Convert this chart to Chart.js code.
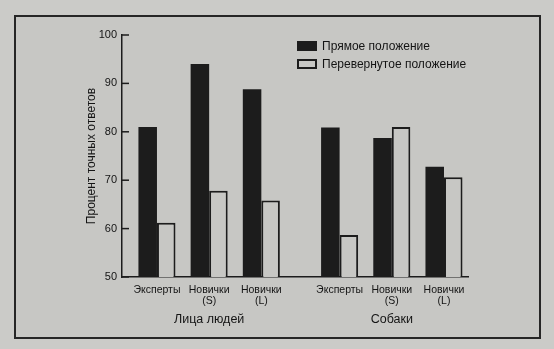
<!DOCTYPE html>
<html>
<head>
<meta charset="utf-8">
<script src="https://cdn.jsdelivr.net/npm/chart.js@4.4.1/dist/chart.umd.min.js"></script>
<style>
    body { margin: 0; background: #cbcbc8; }
    #wrap { position: relative; width: 554px; height: 349px; overflow: hidden; }
    #frame { position: absolute; left: 14px; top: 15px; width: 527px; height: 324px;
             border: 2px solid #262626; box-sizing: border-box; background: #c7c7c4; }
    #myChart { position: absolute; left: 0; top: 0; }
    #legend { position: absolute; left: 297px; top: 37px;
              font: 12px 'Liberation Sans', Arial, sans-serif; color: #141414; }
    .row { display: flex; align-items: center; height: 18px; white-space: nowrap; }
    .box { width: 20px; height: 10px; box-sizing: border-box; margin-right: 5px; }
</style>
</head>
<body>
<div id="wrap">
    <div id="frame"></div>
    <canvas id="myChart" width="554" height="349"></canvas>
    <div id="legend"></div>
</div>
<script>
const categories = [['Эксперты'], ['Новички', '(S)'], ['Новички', '(L)'], ['Эксперты'], ['Новички', '(S)'], ['Новички', '(L)']];
const xPositions = [0, 1, 2, 3.5, 4.5, 5.5];
const groups = ['Лица людей', 'Собаки'];
const groupPositions = [1, 4.5];
const upright = [81, 94, 88.8, 80.9, 78.7, 72.8];
const inverted = [61.2, 67.8, 65.8, 58.7, 81, 70.6];
const yTicks = [50, 60, 70, 80, 90, 100];

const CHART = document.getElementById('myChart');
const INK = '#1c1c1c';
const TEXT = '#141414';
const PAPER = '#c7c7c4';
const FONT = "'Liberation Sans', Arial, sans-serif";

// short tick marks pointing into the plot from the y axis
const innerTicks = {
    id: 'innerTicks',
    afterDraw(chart) {
        const y = chart.scales.y;
        const ctx = chart.ctx;
        const x0 = chart.chartArea.left;
        ctx.save();
        ctx.strokeStyle = INK;
        ctx.lineWidth = 1.5;
        y.ticks.forEach(t => {
            const py = y.getPixelForValue(t.value);
            ctx.beginPath();
            ctx.moveTo(x0, py);
            ctx.lineTo(x0 + 7, py);
            ctx.stroke();
        });
        ctx.restore();
    }
};

const myChart = new Chart(CHART, {
    type: 'bar',
    data: {
        datasets: [{
            label: 'Прямое положение',
            data: xPositions.map((x, i) => ({x: x, y: upright[i]})),
            backgroundColor: INK,
            borderWidth: 0
        }, {
            label: 'Перевернутое положение',
            data: xPositions.map((x, i) => ({x: x, y: inverted[i]})),
            backgroundColor: PAPER,
            borderColor: INK,
            borderWidth: 2
        }]
    },
    options: {
        responsive: false,
        animation: false,
        categoryPercentage: 0.71,
        barPercentage: 1.0,
        layout: { padding: { left: 0, top: 35, right: 86, bottom: 12 } },
        plugins: {
            legend: { display: false },
            tooltip: { enabled: false }
        },
        scales: {
            x: {
                type: 'linear',
                offset: false,
                min: -0.67,
                max: 5.96,
                afterBuildTicks: s => { s.ticks = xPositions.map(v => ({value: v})); },
                afterFit: s => { s.height = 30; },
                grid: { display: false, drawTicks: false },
                border: { display: true, color: INK, width: 1.5 },
                ticks: {
                    autoSkip: false,
                    maxRotation: 0,
                    padding: 8,
                    color: TEXT,
                    font: { family: FONT, size: 10.5, lineHeight: 1.0 },
                    callback: v => categories[xPositions.indexOf(v)]
                }
            },
            x2: {
                type: 'linear',
                position: 'bottom',
                weight: 1,
                offset: false,
                min: -0.67,
                max: 5.96,
                afterBuildTicks: s => { s.ticks = groupPositions.map(v => ({value: v})); },
                afterFit: s => { s.height = 30; },
                grid: { display: false, drawTicks: false },
                border: { display: false },
                ticks: {
                    autoSkip: false,
                    maxRotation: 0,
                    padding: 6,
                    color: TEXT,
                    font: { family: FONT, size: 12.5, lineHeight: 1.0 },
                    callback: v => groups[groupPositions.indexOf(v)]
                }
            },
            y: {
                min: 50,
                max: 100,
                afterBuildTicks: s => { s.ticks = yTicks.map(v => ({value: v})); },
                afterFit: s => { s.width = 122; },
                grid: { display: false, drawTicks: false },
                border: { display: true, color: INK, width: 1.5 },
                ticks: {
                    padding: 5,
                    color: TEXT,
                    font: { family: FONT, size: 11 }
                },
                title: {
                    display: true,
                    text: 'Процент точных ответов',
                    color: TEXT,
                    padding: { top: 84, bottom: 0 },
                    font: { family: FONT, size: 12 }
                }
            }
        }
    },
    plugins: [innerTicks]
});

// legend drawn as html inside the plot, built from the datasets
const legendEl = document.getElementById('legend');
myChart.data.datasets.forEach(ds => {
    const row = document.createElement('div');
    row.className = 'row';
    const box = document.createElement('span');
    box.className = 'box';
    box.style.background = ds.backgroundColor;
    if (ds.borderWidth) box.style.border = ds.borderWidth + 'px solid ' + ds.borderColor;
    row.appendChild(box);
    row.appendChild(document.createTextNode(ds.label));
    legendEl.appendChild(row);
});
</script>
</body>
</html>
